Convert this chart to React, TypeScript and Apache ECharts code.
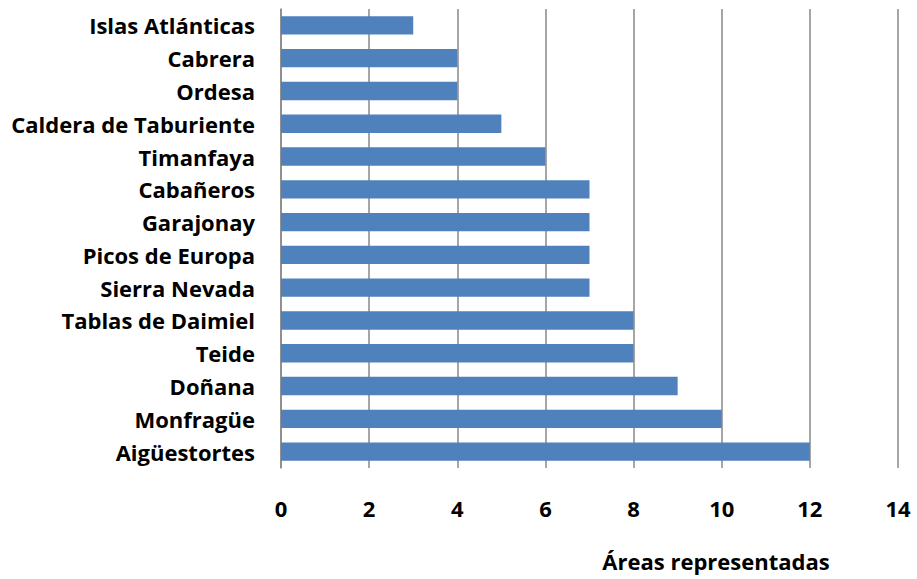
import React, { useEffect, useRef } from "react";
import * as echarts from "echarts";

const categories = [
  "Islas Atlánticas",
  "Cabrera",
  "Ordesa",
  "Caldera de Taburiente",
  "Timanfaya",
  "Cabañeros",
  "Garajonay",
  "Picos de Europa",
  "Sierra Nevada",
  "Tablas de Daimiel",
  "Teide",
  "Doñana",
  "Monfragüe",
  "Aigüestortes",
];
const values = [3, 4, 4, 5, 6, 7, 7, 7, 7, 8, 8, 9, 10, 12];
const axisTitle = "Áreas representadas";
const xMin = 0;
const xMax = 14;
const xInterval = 2;

const FONT = "'Open Sans', Lato, sans-serif";

export default function App() {
  const ref = useRef<HTMLDivElement>(null);
  useEffect(() => {
    if (!ref.current) return;
    const chart = echarts.init(ref.current, null, { renderer: "svg" });
    chart.setOption({
      animation: false,
      backgroundColor: "#ffffff",
      grid: { left: 281, right: 19, top: 9, bottom: 111, containLabel: false },
      xAxis: {
        type: "value",
        min: xMin,
        max: xMax,
        interval: xInterval,
        axisLine: { show: false },
        axisTick: { show: false },
        splitLine: { show: true, lineStyle: { color: "#888888", width: 1.5 } },
        axisLabel: {
          margin: 29,
          color: "#000",
          fontFamily: FONT,
          fontWeight: "bold",
          fontSize: 22,
        },
      },
      yAxis: {
        type: "category",
        data: categories,
        inverse: true,
        axisLine: { show: true, lineStyle: { color: "#888888", width: 1.5 } },
        axisTick: { show: false },
        axisLabel: {
          margin: 26,
          color: "#000",
          fontFamily: FONT,
          fontWeight: "bold",
          fontSize: 22,
        },
      },
      series: [
        {
          type: "bar",
          data: values,
          barCategoryGap: "44%",
          itemStyle: { color: "#4F81BD" },
        },
      ],
      graphic: [
        {
          type: "text",
          x: 716,
          y: 561,
          style: {
            text: axisTitle,
            fontFamily: FONT,
            fontWeight: "bold",
            fontSize: 22,
            fill: "#000",
            textAlign: "center",
            textVerticalAlign: "middle",
          },
        },
      ],
    });
    return () => chart.dispose();
  }, []);
  return <div ref={ref} style={{ width: 917, height: 579, position: "absolute", left: 0, top: 0 }} />;
}
